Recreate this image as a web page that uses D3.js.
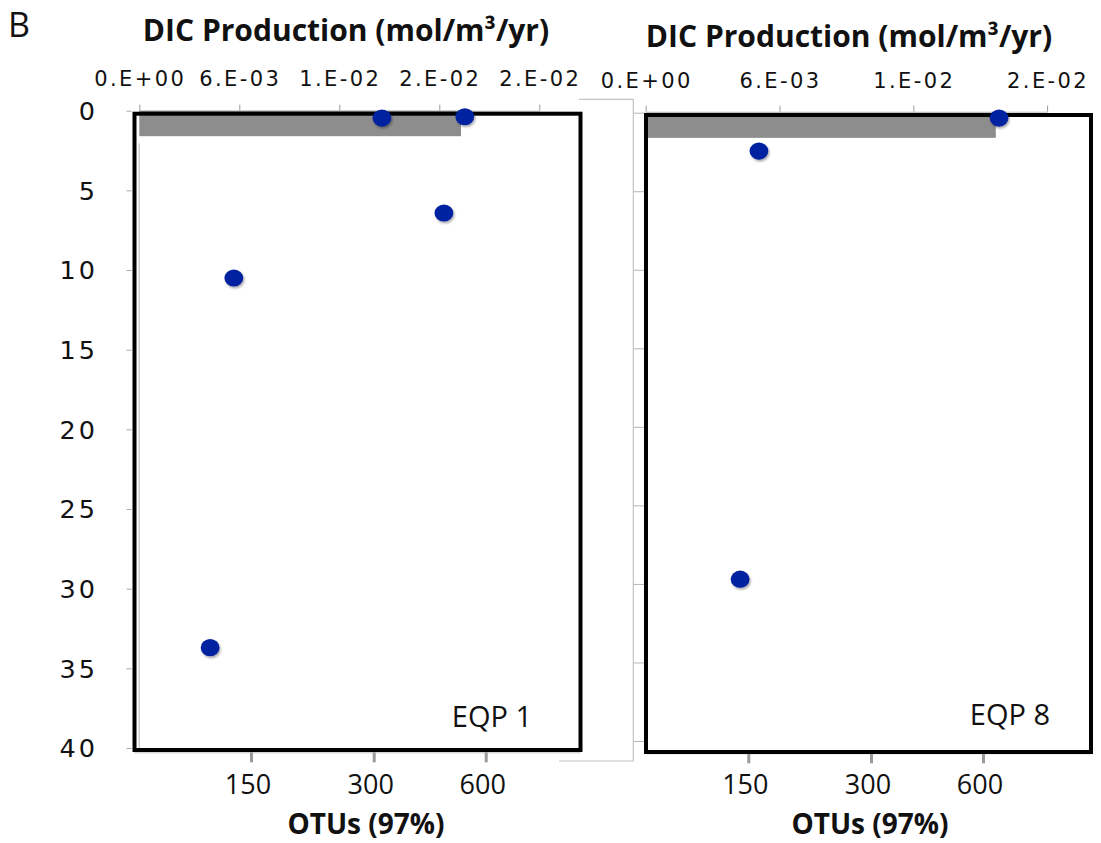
<!DOCTYPE html>
<html>
<head>
<meta charset="utf-8">
<script src="https://cdn.jsdelivr.net/npm/d3@7"></script>
<style>
  html, body { margin: 0; padding: 0; background: #fff; }
  svg { display: block; }
</style>
</head>
<body>
<script>
// Depth profiles at two sites: DIC production in the surface layer (grey bar, top axis)
// and OTU richness at 97% similarity (blue dots, bottom axis) against depth.

const sites = ["EQP 1", "EQP 8"];
const depthTicks = [0, 5, 10, 15, 20, 25, 30, 35, 40];
const otuTicks = [150, 300, 600];
const dicTicksEQP1 = [0, 0.006, 0.012, 0.018, 0.024];
const dicTicksEQP8 = [0, 0.006, 0.012, 0.018];
const dicDomainEQP1 = [0, 0.024];
const dicDomainEQP8 = [0, 0.018];
const dicProduction = [0.0193, 0.0157];      // mol/m3/yr
const dicLayer = [0, 1.6];                   // depth interval covered by the DIC value
const eqp1Depth = [0.46, 0.38, 6.42, 10.5, 33.7];
const eqp1OTUs  = [322, 544, 488, 129, 100];
const eqp8Depth = [0.34, 2.44, 29.7];
const eqp8OTUs  = [643, 163, 140];

const W = 1101, H = 843;
const svg = d3.select("body").append("svg").attr("width", W).attr("height", H);

const defs = svg.append("defs");
defs.append("filter").attr("id", "dotShadow")
  .attr("x", "-50%").attr("y", "-50%").attr("width", "200%").attr("height", "200%")
  .append("feDropShadow")
  .attr("dx", 1.2).attr("dy", 1.8).attr("stdDeviation", 1.3)
  .attr("flood-color", "#000").attr("flood-opacity", 0.35);

// Excel-style "0.E+00" number format
function sciFmt(v) {
  if (v === 0) return "0.E+00";
  let e = Math.floor(Math.log10(v));
  let m = Math.round(v / Math.pow(10, e));
  if (m >= 10) { m = 1; e += 1; }
  return m + ".E" + (e < 0 ? "-" : "+") + String(Math.abs(e)).padStart(2, "0");
}

const panels = [
  {
    site: sites[0], depth: eqp1Depth, otus: eqp1OTUs, dic: dicProduction[0],
    dicTicks: dicTicksEQP1, dicDomain: dicDomainEQP1,
    box: [134.5, 113.7, 580.5, 750],
    depthRange: [110.7, 748],
    otuRange: [251, 373.7, 485.7],
    dicRange: [139.3, 539.3],
    topAxisY: 110.7, topLabelY: 86,
    titleX: 346, titleY: 41,
    otuAxisY: 752.3, otuTitleX: 366,
    siteX: 532, siteY: 727
  },
  {
    site: sites[1], depth: eqp8Depth, otus: eqp8OTUs, dic: dicProduction[1],
    dicTicks: dicTicksEQP8, dicDomain: dicDomainEQP8,
    box: [646, 115, 1091, 752],
    depthRange: [112.7, 741],
    otuRange: [748.3, 871, 983],
    dicRange: [645.7, 1047.1],
    topAxisY: 111.7, topLabelY: 88,
    titleX: 849, titleY: 47,
    otuAxisY: 753.3, otuTitleX: 870,
    siteX: 1050, siteY: 725
  }
];

// Panel label
svg.append("text").attr("x", 8).attr("y", 37)
  .attr("font-family", "Open Sans").attr("font-size", 34).attr("fill", "#111")
  .text("B");

// Frame of the second chart peeking out between the panels
svg.append("path")
  .attr("d", "M579,99.3H633.3V761H559")
  .attr("fill", "none").attr("stroke", "#c4c4c4").attr("stroke-width", 1.2);

panels.forEach((p, i) => {
  const g = svg.append("g");
  const y = d3.scaleLinear().domain([0, 40]).range(p.depthRange);
  const x = d3.scaleLinear().domain(otuTicks).range(p.otuRange);
  const xd = d3.scaleLinear().domain(p.dicDomain)
    .range([p.dicRange[0], p.dicRange[0] + (p.dicRange[1] - p.dicRange[0]) *
      (p.dicDomain[1] / p.dicTicks[p.dicTicks.length - 1])]);

  // Top axis: DIC production
  const topAx = g.append("g").attr("transform", `translate(0,${p.topAxisY})`)
    .call(d3.axisTop(xd).tickValues(p.dicTicks).tickSize(6).tickSizeOuter(0).tickFormat(""));
  topAx.select(".domain").attr("stroke", "#bdbdbd");
  topAx.selectAll(".tick line").attr("stroke", "#9a9a9a");
  g.selectAll(".dicLabel").data(p.dicTicks).join("text")
    .attr("x", d => xd(d) + 1).attr("y", p.topLabelY)
    .attr("text-anchor", "middle")
    .attr("font-family", "DejaVu Sans").attr("font-size", 21)
    .attr("letter-spacing", 2.4).attr("fill", "#111")
    .text(sciFmt);

  g.append("text").attr("x", p.titleX).attr("y", p.titleY)
    .attr("text-anchor", "middle")
    .attr("font-family", "Open Sans").attr("font-weight", 700).attr("font-size", 30)
    .attr("fill", "#111")
    .text("DIC Production (mol/m³/yr)");

  // Depth axis
  if (i === 0) {
    const yAx = g.append("g").attr("transform", `translate(${p.box[0] - 3},0)`)
      .call(d3.axisLeft(y).tickValues(depthTicks).tickSize(5).tickSizeOuter(0).tickFormat(""));
    yAx.select(".domain").remove();
    yAx.selectAll(".tick line").attr("stroke", "#a8a8a8");
    g.selectAll(".depthLabel").data(depthTicks).join("text")
      .attr("x", 98).attr("y", d => y(d)).attr("dy", "0.36em")
      .attr("text-anchor", "end")
      .attr("font-family", "DejaVu Sans").attr("font-size", 25.5)
      .attr("letter-spacing", 3).attr("fill", "#111")
      .text(d => d);
    // inner category axis line of the bar chart
    g.append("line")
      .attr("x1", 139.3).attr("x2", 139.3)
      .attr("y1", y(dicLayer[1]) + 7).attr("y2", p.box[3])
      .attr("stroke", "#c8c8c8").attr("stroke-width", 1.2);
  } else {
    const yAx = g.append("g").attr("transform", "translate(633.3,0)")
      .call(d3.axisRight(y).tickValues(depthTicks).tickSize(12).tickSizeOuter(0).tickFormat(""));
    yAx.select(".domain").remove();
    yAx.selectAll(".tick line").attr("stroke", "#b5b5b5");
  }

  // DIC bar
  g.append("rect")
    .attr("x", xd(0)).attr("y", y(dicLayer[0]))
    .attr("width", xd(p.dic) - xd(0))
    .attr("height", y(dicLayer[1]) - y(dicLayer[0]))
    .attr("fill", "#8d8d8d");

  // Bottom axis: OTUs
  const botAx = g.append("g").attr("transform", `translate(0,${p.otuAxisY})`)
    .call(d3.axisBottom(x).tickValues(otuTicks).tickSize(10).tickSizeOuter(0).tickFormat(""));
  botAx.select(".domain").attr("d", `M${p.box[0]},0.5H${p.box[2]}`)
    .attr("stroke", "#c4c4c4");
  botAx.selectAll(".tick line").attr("stroke", "#9a9a9a").attr("stroke-width", 3);
  g.selectAll(".otuLabel").data(otuTicks).join("text")
    .attr("x", d => x(d) - 3).attr("y", 794)
    .attr("text-anchor", "middle")
    .attr("font-family", "Open Sans").attr("font-size", 27).attr("fill", "#111")
    .text(d => d);

  g.append("text").attr("x", p.otuTitleX).attr("y", 834)
    .attr("text-anchor", "middle")
    .attr("font-family", "Open Sans").attr("font-weight", 700).attr("font-size", 28)
    .attr("fill", "#111")
    .text("OTUs (97%)");

  // Panel frame
  g.append("rect")
    .attr("x", p.box[0]).attr("y", p.box[1])
    .attr("width", p.box[2] - p.box[0]).attr("height", p.box[3] - p.box[1])
    .attr("fill", "none").attr("stroke", "#000").attr("stroke-width", 4);

  g.append("text").attr("x", p.siteX).attr("y", p.siteY)
    .attr("text-anchor", "end")
    .attr("font-family", "Open Sans").attr("font-size", 29).attr("fill", "#111")
    .text(p.site);

  // OTU dots
  g.selectAll(".dot").data(p.otus.map((v, k) => ({ otu: v, depth: p.depth[k] })))
    .join("ellipse")
    .attr("cx", d => x(d.otu)).attr("cy", d => y(d.depth))
    .attr("rx", 9.4).attr("ry", 8.6)
    .attr("fill", "#0020a0")
    .attr("filter", "url(#dotShadow)");
});
</script>
</body>
</html>
